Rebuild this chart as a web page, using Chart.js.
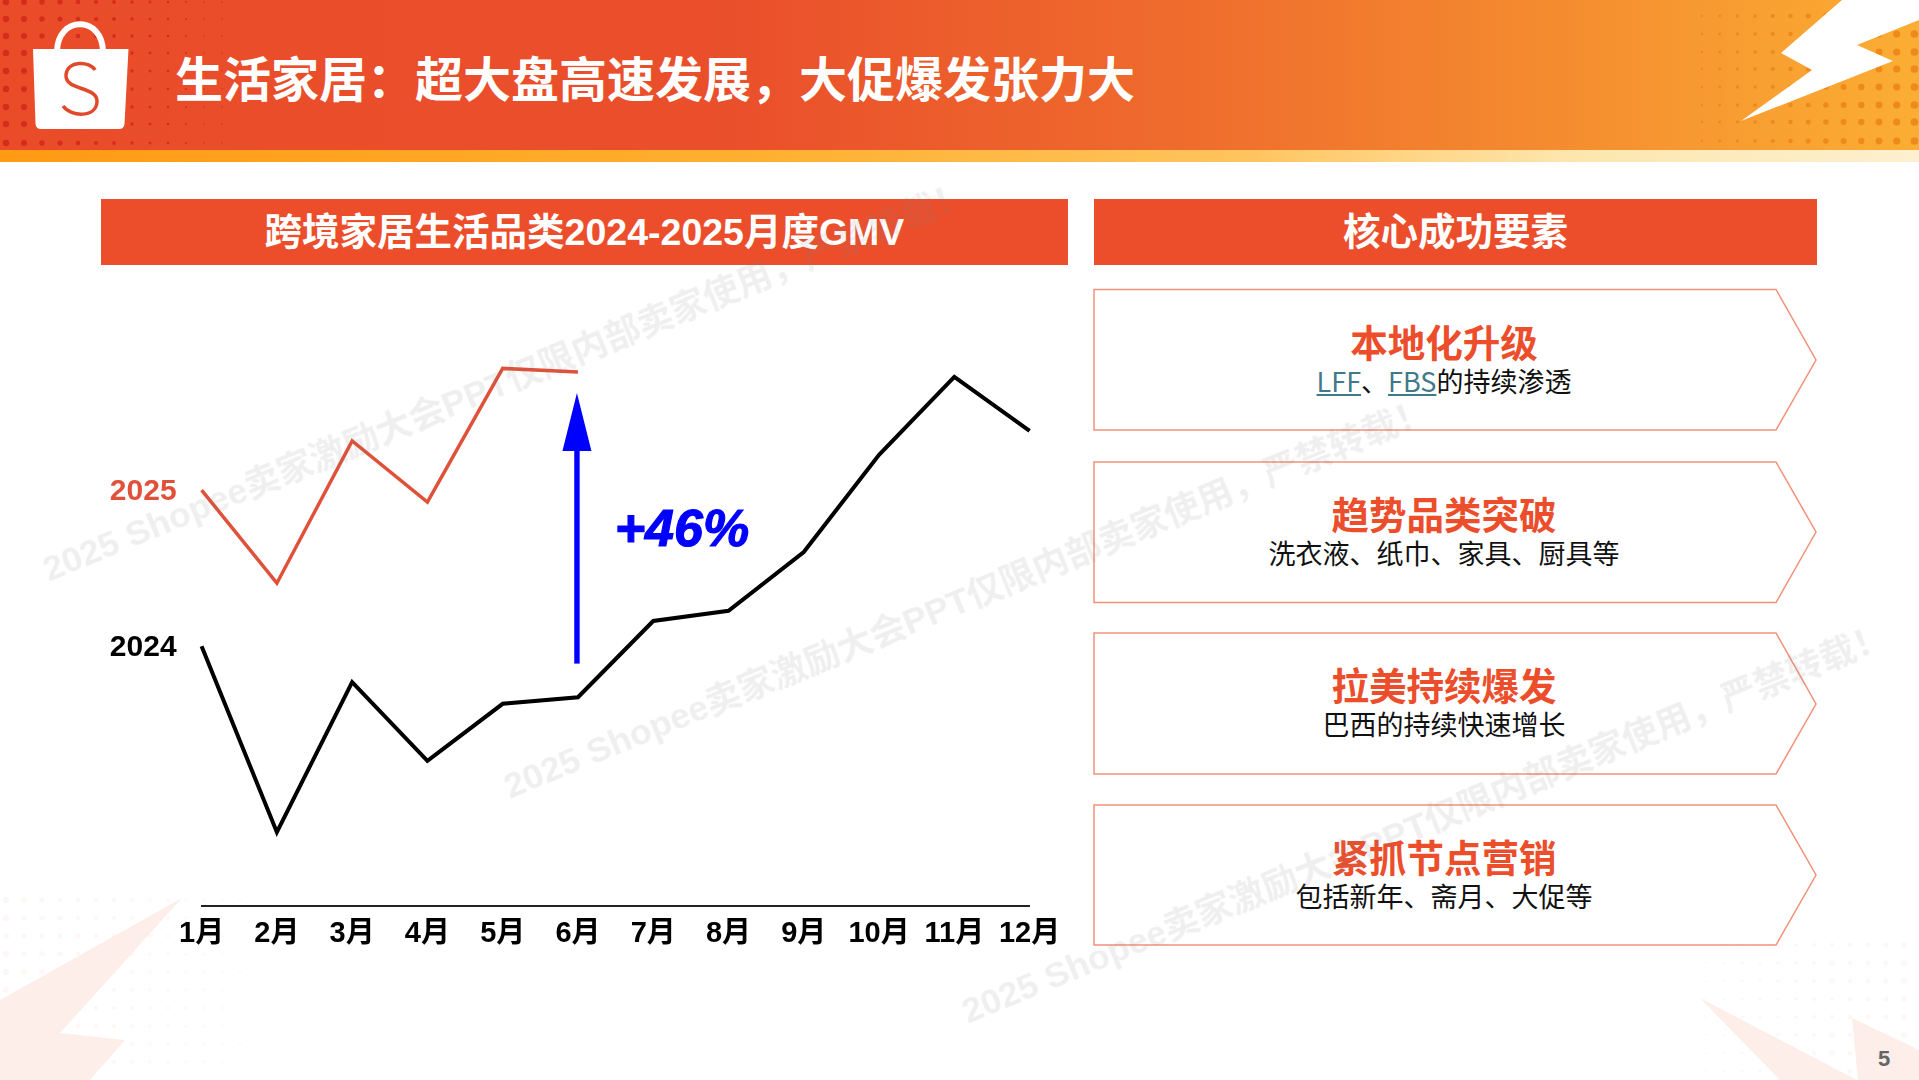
<!DOCTYPE html>
<html lang="zh-CN">
<head>
<meta charset="utf-8">
<title>生活家居</title>
<script src="https://cdn.jsdelivr.net/npm/chart.js@4/dist/chart.umd.min.js"></script>
<style>
  * { box-sizing: border-box; }
  html, body { margin: 0; width: 1919px; height: 1080px; overflow: hidden; background: #fff; }
  body { position: relative; font-family: "Liberation Sans", "Noto Sans CJK SC", sans-serif; }
  .abs { position: absolute; }
  #head { left: 0; top: 0; width: 1919px; height: 150px;
    background: linear-gradient(90deg, #ea4c2a 0%, #ea4f2b 38%, #ef6c2d 62%, #f48a2f 80%, #fbae33 100%); }
  #band { left: 0; top: 150px; width: 1919px; height: 12px;
    background: linear-gradient(90deg, #ff9a14 0%, #ffb030 40%, #ffc45e 65%, #fde6ae 82%, #fdf0cf 100%); }
  #decor { left: 0; top: 0; width: 1919px; height: 1080px; }
  #title { left: 175px; top: 48px; font-size: 48px; line-height: 66px; font-weight: 700; color: #fff; white-space: nowrap; }
  .bar { top: 199px; height: 66px; background: #ec4e2c; color: #fff; font-size: 37.500px; font-weight: 700;
    line-height: 66px; text-align: center; white-space: nowrap; }
  #chartWrap { left: 100px; top: 280px; width: 990px; height: 680px; }
  .card { left: 1094px; width: 700px; text-align: center; }
  .card b { display: block; font-size: 37.500px; line-height: 46px; color: #ec4e2c; }
  .card span { display: block; margin-top: -2px; font-family: "Noto Sans CJK SC", sans-serif; font-size: 27px; line-height: 32px; color: #111; }
  .card u { color: #3f7a8a; }
  #pageNo { left: 1878px; top: 1046px; font-size: 22px; font-weight: 700; color: #666; }
  .mark { left: 0; top: 0; font-size: 35.600px; font-weight: 700; color: rgba(120,120,120,.12); white-space: nowrap; pointer-events: none; }
</style>
</head>
<body>
<div class="abs" id="head"></div>
<div class="abs" id="band"></div>
<svg class="abs" id="decor" viewBox="0 0 1919 1080" xmlns="http://www.w3.org/2000/svg">
  <g id="dotsLeft" fill="#d62c1c"></g>
  <g id="dotsRight" fill="#ee8a1c"></g>
  <g id="dotsFaintLeft" fill="#f0704a" opacity="0.05"></g>
  <g id="dotsFaintRight" fill="#f0704a" opacity="0.05"></g>
  <polygon points="1842,0 1781,53 1812,70 1741,121 1893,61 1857,45 1919,20 1919,0" fill="#fff"/>
  <polygon points="182,898 0,1000 0,1080 90,1080 125,1040 60,1033" fill="#fdeee9"/>
  <polygon points="1700,998 1857,1080 1780,1080" fill="#fdeee9"/>
  <polygon points="1852,1018 1919,1050 1919,1080 1858,1080" fill="#fdeee9"/>
  <path d="M57 52 C57 15 103 15 103 52" fill="none" stroke="#fff" stroke-width="6"/>
  <path d="M33 49 H128.5 L124.5 124 Q124 129 119 129 H41 Q36 129 35.500 124 Z" fill="#fff"/>
  <path d="M95 70 C90 61 67 60 66 75 C65 91 98 86 97 102 C96 118 71 117 63 106" fill="none" stroke="#e0492c" stroke-width="3.500"/>
  <g fill="none" stroke="#f2917a" stroke-width="1.500">
    <polygon points="1094,289.500 1776,289.500 1816,360 1776,430 1094,430"/>
    <polygon points="1094,462 1776,462 1816,532 1776,602.500 1094,602.500"/>
    <polygon points="1094,633 1776,633 1816,704 1776,774 1094,774"/>
    <polygon points="1094,805 1776,805 1816,875 1776,945 1094,945"/>
  </g>
</svg>

<div class="abs" id="title">生活家居：超大盘高速发展，大促爆发张力大</div>
<div class="abs bar" style="left:101px;width:967px">跨境家居生活品类2024-2025月度GMV</div>
<div class="abs bar" style="left:1094px;width:723px">核心成功要素</div>

<div class="abs" id="chartWrap"><canvas id="gmvChart"></canvas></div>

<div class="abs card" style="top:321px"><b>本地化升级</b><span><u>LFF</u>、<u>FBS</u>的持续渗透</span></div>
<div class="abs card" style="top:493px"><b>趋势品类突破</b><span>洗衣液、纸巾、家具、厨具等</span></div>
<div class="abs card" style="top:664px"><b>拉美持续爆发</b><span>巴西的持续快速增长</span></div>
<div class="abs card" style="top:836px"><b>紧抓节点营销</b><span>包括新年、斋月、大促等</span></div>
<div class="abs" id="pageNo">5</div>

<div class="abs mark" style="transform:translate(505px,378px) translate(-50%,-50%) rotate(-22.3deg)">2025 Shopee卖家激励大会PPT仅限内部卖家使用，严禁转载！</div>
<div class="abs mark" style="transform:translate(966px,595px) translate(-50%,-50%) rotate(-22.3deg)">2025 Shopee卖家激励大会PPT仅限内部卖家使用，严禁转载！</div>
<div class="abs mark" style="transform:translate(1424px,820px) translate(-50%,-50%) rotate(-22.3deg)">2025 Shopee卖家激励大会PPT仅限内部卖家使用，严禁转载！</div>

<script>
const months = ['1月', '2月', '3月', '4月', '5月', '6月', '7月', '8月', '9月', '10月', '11月', '12月'];
// the value axis has no units
const gmv2024 = [43.3, 12.3, 37.3, 24.2, 33.7, 34.8, 47.5, 49.2, 59, 75.2, 88.2, 79.2];
const gmv2025 = [69.3, 53.8, 77.5, 67.3, 89.6, 89];
const arrowValues = [40.4, 85.5];
const growthLabel = '+46%';

const FONT = '"Liberation Sans", "Noto Sans CJK SC", sans-serif';
const RED = '#e0513a';
const BLUE = '#0000ff';

// decor dots on the header and in the corners
function addDots(id, xs, ys, radius) {
    const g = document.getElementById(id);
    let out = '';
    xs.forEach((x, i) => ys.forEach(y => {
        out += `<circle cx="${x}" cy="${y}" r="${radius(i)}"/>`;
    }));
    g.innerHTML = out;
}
const col = (start, step, n) => Array.from({ length: n }, (_, i) => start + i * step);
addDots('dotsLeft', col(6, 18, 13), [2, 19, 36, 53, 71, 89, 107, 124, 143], i => Math.max(0.7, 3.2 - i * 0.22));
addDots('dotsRight', col(1702, 17.7, 13), [16, 34, 52, 69, 87, 105, 122, 141], i => 1.2 + i * 0.22);
addDots('dotsFaintLeft', col(6, 18, 14), col(900, 18, 10), i => Math.max(0.8, 3 - i * 0.15));
addDots('dotsFaintRight', col(1670, 18, 14), col(945, 18, 8), i => 0.8 + i * 0.15);

// end labels, growth arrow and the +46% text
const annotations = {
    id: 'annotations',
    afterDatasetsDraw(chart) {
        const { ctx, scales: { x, y } } = chart;
        ctx.save();

        ctx.textAlign = 'right';
        ctx.textBaseline = 'middle';
        ctx.font = '700 30px ' + FONT;
        ctx.fillStyle = RED;
        ctx.fillText('2025', x.getPixelForValue(0) - 25, y.getPixelForValue(gmv2025[0]) + 2);
        ctx.fillStyle = '#000';
        ctx.fillText('2024', x.getPixelForValue(0) - 25, y.getPixelForValue(gmv2024[0]) + 2);

        const ax = x.getPixelForValue(5) - 1;
        const y0 = y.getPixelForValue(arrowValues[0]);
        const y1 = y.getPixelForValue(arrowValues[1]);
        ctx.fillStyle = BLUE;
        ctx.fillRect(ax - 2.7, y1 + 50, 5.4, y0 - y1 - 50);
        ctx.beginPath();
        ctx.moveTo(ax, y1);
        ctx.lineTo(ax + 14.5, y1 + 58);
        ctx.lineTo(ax - 14.5, y1 + 58);
        ctx.closePath();
        ctx.fill();

        ctx.textAlign = 'center';
        ctx.font = 'italic 700 52px ' + FONT;
        ctx.strokeStyle = BLUE;
        ctx.lineWidth = 1.2;
        ctx.fillText(growthLabel, ax + 105, y.getPixelForValue(62.4));
        ctx.strokeText(growthLabel, ax + 105, y.getPixelForValue(62.4));
        ctx.restore();
    }
};

new Chart(document.getElementById('gmvChart'), {
    type: 'line',
    data: {
        labels: months,
        datasets: [
            { label: '2024', data: gmv2024, borderColor: '#000', borderWidth: 4, pointRadius: 0, tension: 0, clip: false },
            { label: '2025', data: gmv2025, borderColor: RED, borderWidth: 3.5, pointRadius: 0, tension: 0, clip: false },
        ]
    },
    options: {
        responsive: true,
        maintainAspectRatio: false,
        animation: false,
        layout: { padding: { left: 101.6, right: 60.4, top: 26, bottom: 0 } },
        plugins: { legend: { display: false }, tooltip: { enabled: false } },
        scales: {
            x: {
                offset: false,
                grid: { display: false, drawTicks: false },
                border: { color: '#222', width: 2 },
                ticks: { color: '#000', font: { family: FONT, size: 29, weight: '700' }, padding: 11, autoSkip: false, maxRotation: 0 },
                afterFit: s => { s.height = 54; },
            },
            y: { display: false, min: 0, max: 100 },
        }
    },
    plugins: [annotations]
});
</script>
</body>
</html>
